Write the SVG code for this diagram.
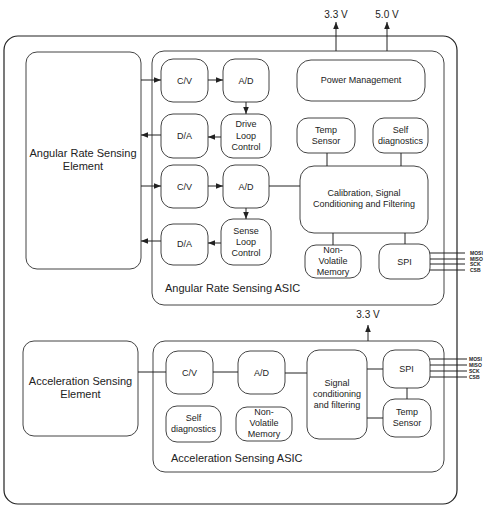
<svg xmlns="http://www.w3.org/2000/svg" width="490" height="510" viewBox="0 0 490 510">
<defs>
<marker id="ah" viewBox="0 0 10 10" refX="10" refY="5" markerWidth="7" markerHeight="7" markerUnits="userSpaceOnUse" orient="auto">
<path d="M0,1 L10,5 L0,9 z" fill="#222"/>
</marker>
</defs>
<style>
.b{fill:#fff;stroke:#444;stroke-width:1}
.o{fill:#fff;stroke:#222;stroke-width:1.2}
.t{font-family:"Liberation Sans",Arial,sans-serif;font-size:9px;fill:#222;text-anchor:middle}
.L{font-family:"Liberation Sans",Arial,sans-serif;font-size:11px;fill:#222}
.s{font-family:"Liberation Sans",Arial,sans-serif;font-size:5px;font-weight:bold;fill:#222}
.c{stroke:#222;stroke-width:1;fill:none}
.a{stroke:#222;stroke-width:1;fill:none;marker-end:url(#ah)}
</style>
<g id="outer"><rect class="o" x="4" y="36" width="453" height="468" rx="14"/></g>
<g id="ar-element"><rect class="b" x="26" y="52" width="115" height="217" rx="11"/>
<text class="L" text-anchor="middle" x="83" y="157">Angular Rate Sensing</text><text class="L" text-anchor="middle" x="83" y="170">Element</text></g>
<g id="ar-asic"><rect class="b" x="152" y="51" width="292" height="254" rx="12"/>
<text class="L" x="165" y="292">Angular Rate Sensing ASIC</text></g>
<g id="cv1"><rect class="b" x="161" y="59" width="47" height="43" rx="12"/><text class="t" x="184.5" y="83.5">C/V</text></g>
<g id="ad1"><rect class="b" x="223" y="59" width="46" height="43" rx="12"/><text class="t" x="246" y="83.5">A/D</text></g>
<g id="da1"><rect class="b" x="161" y="114" width="47" height="44" rx="12"/><text class="t" x="184.5" y="139">D/A</text></g>
<g id="dlc"><rect class="b" x="221" y="114" width="50" height="44" rx="12"/><text class="t" x="246" y="127">Drive</text><text class="t" x="246" y="139">Loop</text><text class="t" x="246" y="150">Control</text></g>
<g id="cv2"><rect class="b" x="161" y="165" width="47" height="43" rx="12"/><text class="t" x="184.5" y="189.5">C/V</text></g>
<g id="ad2"><rect class="b" x="223" y="165" width="46" height="43" rx="12"/><text class="t" x="246" y="189.5">A/D</text></g>
<g id="da2"><rect class="b" x="161" y="224" width="47" height="41" rx="12"/><text class="t" x="184.5" y="247">D/A</text></g>
<g id="slc"><rect class="b" x="221" y="219" width="50" height="46" rx="12"/><text class="t" x="246" y="234">Sense</text><text class="t" x="246" y="245">Loop</text><text class="t" x="246" y="256">Control</text></g>
<g id="pm"><rect class="b" x="297" y="60" width="128" height="41" rx="14"/><text class="t" x="361" y="83">Power Management</text></g>
<g id="temp1"><rect class="b" x="297" y="118" width="58" height="35" rx="11"/><text class="t" x="326" y="133">Temp</text><text class="t" x="326" y="144">Sensor</text></g>
<g id="sd1"><rect class="b" x="373" y="118" width="55" height="35" rx="11"/><text class="t" x="400.5" y="133">Self</text><text class="t" x="400.5" y="144">diagnostics</text></g>
<g id="cal"><rect class="b" x="300" y="166" width="128" height="67" rx="14"/><text class="t" x="364" y="196">Calibration, Signal</text><text class="t" x="364" y="207">Conditioning and Filtering</text></g>
<g id="nvm1"><rect class="b" x="305" y="245" width="56" height="33" rx="11"/><text class="t" x="333" y="253">Non-</text><text class="t" x="333" y="264">Volatile</text><text class="t" x="333" y="275">Memory</text></g>
<g id="spi1"><rect class="b" x="379" y="244" width="51" height="35" rx="11"/><text class="t" x="404.5" y="264.5">SPI</text></g>
<g id="ac-element"><rect class="b" x="23" y="341" width="115" height="95" rx="11"/>
<text class="L" text-anchor="middle" x="80.5" y="385">Acceleration Sensing</text><text class="L" text-anchor="middle" x="80.5" y="398">Element</text></g>
<g id="ac-asic"><rect class="b" x="153" y="341" width="291" height="131" rx="12"/>
<text class="L" x="171" y="462">Acceleration Sensing ASIC</text></g>
<g id="cv3"><rect class="b" x="166" y="351" width="47" height="43" rx="12"/><text class="t" x="189.5" y="375.5">C/V</text></g>
<g id="ad3"><rect class="b" x="238" y="351" width="47" height="43" rx="12"/><text class="t" x="261.5" y="375.5">A/D</text></g>
<g id="sd3"><rect class="b" x="166" y="406" width="55" height="36" rx="11"/><text class="t" x="193.5" y="421">Self</text><text class="t" x="193.5" y="432">diagnostics</text></g>
<g id="nvm3"><rect class="b" x="236" y="407" width="56" height="34" rx="11"/><text class="t" x="264" y="415">Non-</text><text class="t" x="264" y="426">Volatile</text><text class="t" x="264" y="437">Memory</text></g>
<g id="sc"><rect class="b" x="307" y="350" width="60" height="89" rx="12"/><text class="t" x="337" y="386">Signal</text><text class="t" x="337" y="397">conditioning</text><text class="t" x="337" y="408">and filtering</text></g>
<g id="spi3"><rect class="b" x="383" y="350" width="47" height="38" rx="12"/><text class="t" x="406.5" y="372">SPI</text></g>
<g id="temp3"><rect class="b" x="383" y="399" width="48" height="38" rx="12"/><text class="t" x="407" y="415">Temp</text><text class="t" x="407" y="426">Sensor</text></g>
<g id="labels">
<text class="L" text-anchor="middle" x="336" y="18" style="font-size:10px">3.3 V</text>
<text class="L" text-anchor="middle" x="387" y="18" style="font-size:10px">5.0 V</text>
<text class="L" text-anchor="middle" x="368" y="318" style="font-size:10px">3.3 V</text>
<text class="s" x="470" y="255">MOSI</text><text class="s" x="470" y="261">MISO</text><text class="s" x="470" y="266">SCK</text><text class="s" x="470" y="272">CSB</text>
<text class="s" x="469" y="361">MOSI</text><text class="s" x="469" y="367">MISO</text><text class="s" x="469" y="373">SCK</text><text class="s" x="469" y="379">CSB</text>
</g>
<g id="connectors">
<path class="a" d="M141,80 H161"/>
<path class="a" d="M161,135 H141"/>
<path class="a" d="M141,186 H161"/>
<path class="a" d="M161,241 H141"/>
<path class="a" d="M208,80 H223"/>
<path class="a" d="M246,102 V114"/>
<path class="a" d="M221,137 H208"/>
<path class="a" d="M208,186 H223"/>
<path class="a" d="M246,208 V219"/>
<path class="a" d="M221,243 H208"/>
<path class="c" d="M269,186 H300"/>
<path class="c" d="M327,153 V166"/>
<path class="c" d="M401,153 V166"/>
<path class="c" d="M333,233 V245"/>
<path class="c" d="M405,233 V244"/>
<path class="c" d="M430,253 H465 M430,259 H465 M430,264 H465 M430,270 H465"/>
<path class="a" d="M336,51 V22"/>
<path class="a" d="M387,51 V22"/>
<path class="c" d="M138,372 H166"/>
<path class="c" d="M213,372 H238"/>
<path class="c" d="M285,373 H307"/>
<path class="c" d="M367,369 H383"/>
<path class="c" d="M367,418 H383"/>
<path class="c" d="M407,388 V399"/>
<path class="c" d="M430,359 H467 M430,365 H467 M430,371 H467 M430,377 H467"/>
<path class="a" d="M368,341 V325"/>
</g>
</svg>
